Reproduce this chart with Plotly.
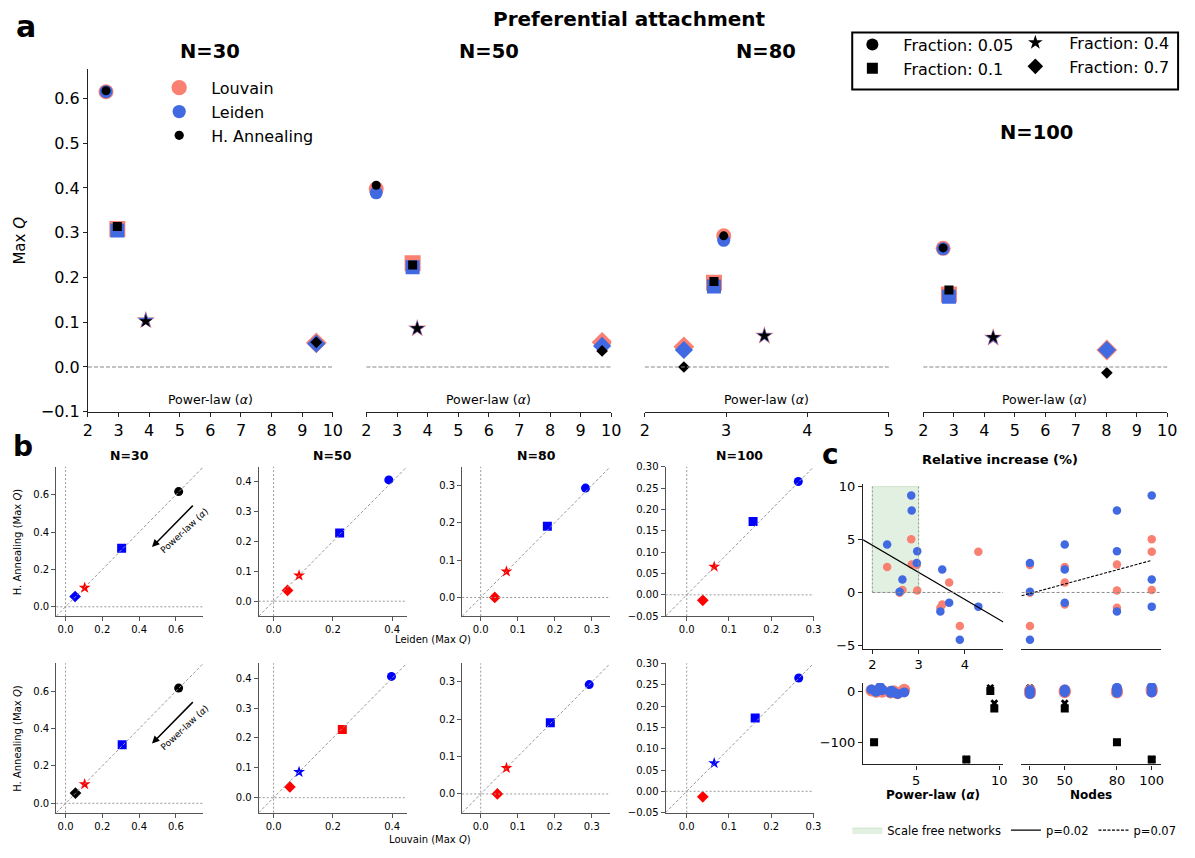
import plotly.graph_objects as go

W, H = 1195, 858
FONT = "DejaVu Sans"

# ---------------- data ----------------
N_VALUES = [30, 50, 80, 100]
N_TITLES = ["N=30", "N=50", "N=80", "N=100"]
FRACTION_LABELS = ["Fraction: 0.05", "Fraction: 0.1", "Fraction: 0.4", "Fraction: 0.7"]

# panel a: power-law exponent and Max Q per fraction (0.05, 0.1, 0.4, 0.7)
alpha_30 = [2.59, 2.96, 3.89, 9.46]
louvain_30 = [0.615, 0.308, 0.104, 0.054]
leiden_30 = [0.615, 0.305, 0.104, 0.052]
anneal_30 = [0.617, 0.314, 0.102, 0.055]

alpha_50 = [2.32, 3.51, 3.66, 9.70]
louvain_50 = [0.398, 0.232, 0.086, 0.055]
leiden_50 = [0.389, 0.223, 0.086, 0.047]
anneal_50 = [0.406, 0.228, 0.086, 0.036]

alpha_80 = [2.97, 2.85, 3.47, 2.48]
louvain_80 = [0.293, 0.188, 0.0695, 0.045]
leiden_80 = [0.283, 0.180, 0.0695, 0.038]
anneal_80 = [0.293, 0.191, 0.0695, 0.0]

alpha_100 = [2.65, 2.84, 4.29, 8.02]
louvain_100 = [0.265, 0.162, 0.065, 0.038]
leiden_100 = [0.264, 0.157, 0.065, 0.038]
anneal_100 = [0.266, 0.172, 0.066, -0.013]

# panel b: colour of each point (blue: annealing higher, red: lower, black: equal)
bcol_leiden_30 = ["black", "blue", "red", "blue"]
bcol_leiden_50 = ["blue", "blue", "red", "red"]
bcol_leiden_80 = ["blue", "blue", "red", "red"]
bcol_leiden_100 = ["blue", "blue", "red", "red"]
bcol_louvain_30 = ["black", "blue", "red", "black"]
bcol_louvain_50 = ["blue", "red", "blue", "red"]
bcol_louvain_80 = ["blue", "blue", "red", "red"]
bcol_louvain_100 = ["blue", "blue", "blue", "red"]

# panel c: relative increase (%) of annealing over Louvain / Leiden
rel_louvain_30 = [-0.03, 2.60, -3.16, 1.5]
rel_leiden_30 = [0.06, 2.78, -4.47, 7.7]
rel_louvain_50 = [2.40, -1.13, 0.94, -33.0]
rel_leiden_50 = [4.53, 2.16, -0.97, -22.6]
rel_louvain_80 = [0.19, 2.63, -1.44, -100.0]
rel_leiden_80 = [3.90, 7.75, -1.81, -100.0]
rel_louvain_100 = [0.22, 5.03, 3.84, -134.0]
rel_leiden_100 = [1.22, 9.16, -1.34, -134.0]

fit_alpha_slope, fit_alpha_intercept = -2.56, 9.58      # p=0.02
fit_nodes_slope, fit_nodes_intercept = 0.0447, -1.44    # p=0.07
fit_nodes_span = [25.2, 100]
scale_free_alpha = [2, 3]
scale_free_top = 10

# ---------------- styles ----------------
SYMBOLS = ["circle", "square", "star", "diamond"]
SIZE_LOUVAIN = [15, 16, 14, 16]
SIZE_LEIDEN = [13, 14, 12, 14]
SIZE_ANNEAL = [9, 9, 10, 9]
SIZE_B = [9, 9, 9, 9]
C_LOUVAIN = "#FA8072"
C_LEIDEN = "#4169E1"


def px_x(p):
    return p / W


def px_y(p):
    return 1 - p / H


fig = go.Figure()
layout = {}
annotations = []
shapes = []


def add_axes(idx, xpx, ypx, xrange, yrange, fsize, xopts=None, yopts=None, lc="#222"):
    xn = "xaxis" if idx == 1 else f"xaxis{idx}"
    yn = "yaxis" if idx == 1 else f"yaxis{idx}"
    xr = "x" if idx == 1 else f"x{idx}"
    yr = "y" if idx == 1 else f"y{idx}"
    base = dict(showgrid=False, zeroline=False, showline=True, linecolor=lc, linewidth=1.2,
                ticks="outside", ticklen=4, tickwidth=1.1, tickcolor=lc,
                tickfont=dict(family=FONT, size=fsize, color="black"), fixedrange=True)
    xd = dict(base)
    xd.update(domain=[px_x(xpx[0]), px_x(xpx[1])], range=xrange, anchor=yr)
    if xopts:
        xd.update(xopts)
    yd = dict(base)
    yd.update(domain=[px_y(ypx[1]), px_y(ypx[0])], range=yrange, anchor=xr)
    if yopts:
        yd.update(yopts)
    layout[xn] = xd
    layout[yn] = yd
    return xr, yr


def ann(text, x, y, size, bold=False, angle=0, xanchor="center", yanchor="middle"):
    annotations.append(dict(text=f"<b>{text}</b>" if bold else text, x=px_x(x), y=px_y(y),
                            xref="paper", yref="paper", showarrow=False, textangle=angle,
                            xanchor=xanchor, yanchor=yanchor,
                            font=dict(family=FONT, size=size, color="black")))


# ---------------- panel a ----------------
a_sets = [(alpha_30, louvain_30, leiden_30, anneal_30),
          (alpha_50, louvain_50, leiden_50, anneal_50),
          (alpha_80, louvain_80, leiden_80, anneal_80),
          (alpha_100, louvain_100, leiden_100, anneal_100)]
a_xpx = [(84, 332), (366, 614), (648, 895), (930, 1177)]
a_xrange = [[2, 10], [2, 10], [2, 5], [2, 10]]
for i, (alpha, lou, lei, ann_q) in enumerate(a_sets):
    yopts = dict(dtick=0.1, tick0=0, tickformat=".1f") if i == 0 else dict(visible=False)
    xr, yr = add_axes(i + 1, a_xpx[i], (65, 414), a_xrange[i], [-0.1, 0.666], 16,
                      xopts=dict(dtick=1, tick0=2), yopts=yopts)
    shapes.append(dict(type="line", xref=f"{xr} domain", yref=yr, x0=0, x1=1, y0=0, y1=0,
                       line=dict(color="#888", width=1.2, dash="4px,2px")))
    for name, vals, col, sz in [("Louvain", lou, C_LOUVAIN, SIZE_LOUVAIN),
                                ("Leiden", lei, C_LEIDEN, SIZE_LEIDEN),
                                ("H. Annealing", ann_q, "black", SIZE_ANNEAL)]:
        fig.add_trace(go.Scatter(x=alpha, y=vals, mode="markers", xaxis=xr, yaxis=yr,
                                 name=name, showlegend=(i == 0), legend="legend",
                                 marker=dict(symbol=SYMBOLS, size=sz, color=col, opacity=1,
                                             line=dict(width=0))))

# fraction legend (symbols only)
for k, lab in enumerate(FRACTION_LABELS):
    fig.add_trace(go.Scatter(x=[None], y=[None], mode="markers", name=lab,
                             legend="legend2" if k < 2 else "legend3",
                             marker=dict(symbol=SYMBOLS[k], color="black", opacity=1,
                                         size=[12, 11, 11, 12][k])))

ann("a", 21, 22, 30, bold=True)
ann("Preferential attachment", 632, 14, 20, bold=True)
for t, (x, y) in zip(N_TITLES, [(208, 47), (490, 47), (771, 47), (1045, 130)]):
    ann(t, x, y, 19.5, bold=True)
for x in [208, 490, 771, 1053]:
    ann("Power-law (<i>α</i>)", x, 402, 12.5)
ann("Max <i>Q</i>", 15, 240, 15, angle=-90)

# ---------------- panel b ----------------
b_xpx = [(52, 201), (257, 407), (463, 613), (669, 819)]
b_rng = [[-0.05, 0.75], [-0.05, 0.45], [-0.05, 0.35], [-0.05, 0.3005]]
b_xticks = [[0, 0.2, 0.4, 0.6], [0, 0.2, 0.4], [0, 0.1, 0.2, 0.3], [0, 0.1, 0.2, 0.3]]
b_yopts = [dict(tickvals=[0, 0.2, 0.4, 0.6], tickformat=".1f"),
           dict(tickvals=[0, 0.1, 0.2, 0.3, 0.4], tickformat=".1f"),
           dict(tickvals=[0, 0.1, 0.2, 0.3], tickformat=".1f"),
           dict(dtick=0.05, tick0=0, tickformat=".2f")]
b_rows = [((470, 622), [leiden_30, leiden_50, leiden_80, leiden_100],
           [bcol_leiden_30, bcol_leiden_50, bcol_leiden_80, bcol_leiden_100]),
          ((670, 822), [louvain_30, louvain_50, louvain_80, louvain_100],
           [bcol_louvain_30, bcol_louvain_50, bcol_louvain_80, bcol_louvain_100])]
anneals = [anneal_30, anneal_50, anneal_80, anneal_100]
idx = 5
for r, (ypx, xs_list, cols_list) in enumerate(b_rows):
    for j in range(4):
        xr, yr = add_axes(idx, b_xpx[j], ypx, b_rng[j], b_rng[j], 10,
                          xopts=dict(tickvals=b_xticks[j], tickformat=".1f"),
                          yopts=b_yopts[j], lc="#555")
        lo, hi = b_rng[j]
        shapes.append(dict(type="line", xref=xr, yref=yr, x0=lo, y0=lo, x1=hi, y1=hi,
                           line=dict(color="#999", width=1, dash="3px,2px")))
        shapes.append(dict(type="line", xref=xr, yref=f"{yr} domain", x0=0, x1=0, y0=0, y1=1,
                           line=dict(color="#999", width=1, dash="2px,2px")))
        shapes.append(dict(type="line", xref=f"{xr} domain", yref=yr, x0=0, x1=1, y0=0, y1=0,
                           line=dict(color="#999", width=1, dash="2px,2px")))
        fig.add_trace(go.Scatter(x=xs_list[j], y=anneals[j], mode="markers", xaxis=xr, yaxis=yr,
                                 showlegend=False,
                                 marker=dict(symbol=SYMBOLS, size=SIZE_B, color=cols_list[j],
                                             opacity=1, line=dict(width=0))))
        if j == 0:
            annotations.append(dict(x=0.47, y=0.32, ax=0.70, ay=0.55, xref=xr, yref=yr,
                                    axref=xr, ayref=yr, showarrow=True, arrowhead=2,
                                    arrowsize=1, arrowwidth=1.5, arrowcolor="black", text=""))
            annotations.append(dict(x=0.645, y=0.405, xref=xr, yref=yr, showarrow=False,
                                    text="Power-law (<i>α</i>)", textangle=-43,
                                    font=dict(family=FONT, size=9, color="black")))
        if r == 0:
            ann(N_TITLES[j], (b_xpx[j][0] + b_xpx[j][1]) / 2, 459, 12.5, bold=True)
        idx += 1
    ann("H. Annealing (Max <i>Q</i>)", 13, (ypx[0] + ypx[1]) / 2 - 0, 10, angle=-90)
ann("Leiden (Max <i>Q</i>)", 433, 646, 10)
ann("Louvain (Max <i>Q</i>)", 430, 849, 10)
ann("b", 18, 449, 28, bold=True)

# ---------------- panel c ----------------
alphas = [alpha_30, alpha_50, alpha_80, alpha_100]
rel_lou = [rel_louvain_30, rel_louvain_50, rel_louvain_80, rel_louvain_100]
rel_lei = [rel_leiden_30, rel_leiden_50, rel_leiden_80, rel_leiden_100]

col_alpha = [a for al in alphas for a in al[:3]]
col_nodes = [n for n in N_VALUES for _ in range(3)]
col_lou = [v for rl in rel_lou for v in rl[:3]]
col_lei = [v for rl in rel_lei for v in rl[:3]]
out_alpha = [al[3] for al in alphas]
out_lou = [rl[3] for rl in rel_lou]
out_lei = [rl[3] for rl in rel_lei]

c_up_range = [-5.3, 10.2]
c_lo_range = [-144, 17.4]
alpha_range_up = [1.8, 4.83]
alpha_range_lo = [1.82, 10.24]
nodes_range = [24.9, 105.5]

x13, y13 = add_axes(13, (869, 1011), (488, 655), alpha_range_up, c_up_range, 13,
                    xopts=dict(tickvals=[2, 3, 4]), yopts=dict(tickvals=[-5, 0, 5, 10]))
x14, y14 = add_axes(14, (1029, 1171), (488, 655), nodes_range, c_up_range, 13,
                    xopts=dict(ticks="", showticklabels=False), yopts=dict(visible=False))
x15, y15 = add_axes(15, (869, 1011), (690, 773), alpha_range_lo, c_lo_range, 13,
                    xopts=dict(tickvals=[5, 10]), yopts=dict(tickvals=[0, -100]))
x16, y16 = add_axes(16, (1029, 1171), (690, 773), nodes_range, c_lo_range, 13,
                    xopts=dict(tickvals=N_VALUES), yopts=dict(visible=False))

# scale free region
fig.add_trace(go.Scatter(
    x=[scale_free_alpha[0], scale_free_alpha[0], scale_free_alpha[1], scale_free_alpha[1], scale_free_alpha[0]],
    y=[0, scale_free_top, scale_free_top, 0, 0], mode="lines", fill="toself",
    fillcolor="rgba(160,205,160,0.30)", line=dict(color="rgba(160,205,160,0.5)", width=0.8),
    xaxis=x13, yaxis=y13, name="Scale free networks", legend="legend4", hoverinfo="skip"))
for xv in scale_free_alpha:
    shapes.append(dict(type="line", xref=x13, yref=y13, x0=xv, x1=xv, y0=0, y1=scale_free_top,
                       line=dict(color="#8a9a8a", width=1, dash="2px,2px")))
shapes.append(dict(type="line", xref=x13, yref=y13, x0=scale_free_alpha[0], x1=alpha_range_up[1],
                   y0=0, y1=0, line=dict(color="#888", width=1, dash="3px,2px")))
shapes.append(dict(type="line", xref=x14, yref=y14, x0=fit_nodes_span[0], x1=nodes_range[1],
                   y0=0, y1=0, line=dict(color="#888", width=1, dash="3px,2px")))

for xr, yr, xs in [(x13, y13, col_alpha), (x14, y14, col_nodes)]:
    fig.add_trace(go.Scatter(x=xs, y=col_lou, mode="markers", xaxis=xr, yaxis=yr, showlegend=False,
                             marker=dict(size=8.5, color=C_LOUVAIN, opacity=1, line=dict(width=0))))
    fig.add_trace(go.Scatter(x=xs, y=col_lei, mode="markers", xaxis=xr, yaxis=yr, showlegend=False,
                             marker=dict(size=8.5, color=C_LEIDEN, opacity=1, line=dict(width=0))))

fx_alpha = list(alpha_range_up)
fig.add_trace(go.Scatter(x=fx_alpha, y=[fit_alpha_slope * v + fit_alpha_intercept for v in fx_alpha],
                         mode="lines", line=dict(color="black", width=1.1), xaxis=x13, yaxis=y13,
                         name="p=0.02", legend="legend4"))
fig.add_trace(go.Scatter(x=fit_nodes_span, y=[fit_nodes_slope * v + fit_nodes_intercept for v in fit_nodes_span],
                         mode="lines", line=dict(color="black", width=1.1, dash="3px,1.5px"),
                         xaxis=x14, yaxis=y14, name="p=0.07", legend="legend4"))

for xr, yr, xs, xo in [(x15, y15, col_alpha, out_alpha), (x16, y16, col_nodes, N_VALUES)]:
    fig.add_trace(go.Scatter(x=xo, y=out_lou, mode="markers", xaxis=xr, yaxis=yr, showlegend=False,
                             marker=dict(symbol="square", size=8, color="black", opacity=1,
                                         line=dict(width=0))))
    fig.add_trace(go.Scatter(x=xo, y=out_lei, mode="markers", xaxis=xr, yaxis=yr, showlegend=False,
                             marker=dict(symbol="x", size=7, color="black", opacity=1,
                                         line=dict(width=0))))
    fig.add_trace(go.Scatter(x=xs, y=col_lou, mode="markers", xaxis=xr, yaxis=yr, showlegend=False,
                             marker=dict(size=12, color=C_LOUVAIN, opacity=1, line=dict(width=0))))
    fig.add_trace(go.Scatter(x=xs, y=col_lei, mode="markers", xaxis=xr, yaxis=yr, showlegend=False,
                             marker=dict(size=10, color=C_LEIDEN, opacity=1, line=dict(width=0))))

ann("c", 836, 458, 28, bold=True)
ann("Relative increase (%)", 1008, 463, 13, bold=True)
ann("Power-law (<i>α</i>)", 940, 804, 12, bold=True)
ann("Nodes", 1100, 804, 12, bold=True)

shapes.append(dict(type="rect", xref="paper", yref="paper", x0=px_x(858), x1=px_x(1188),
                   y0=px_y(86), y1=px_y(28), line=dict(color="black", width=2)))

layout.update(
    width=W, height=H, autosize=False, margin=dict(l=0, r=0, t=0, b=0),
    paper_bgcolor="white", plot_bgcolor="white",
    font=dict(family=FONT, color="black"),
    annotations=annotations, shapes=shapes,
    legend=dict(x=px_x(144), y=px_y(67), xanchor="left", yanchor="top", itemsizing="trace",
                itemwidth=54, font=dict(family=FONT, size=16), bgcolor="rgba(0,0,0,0)",
                borderwidth=0),
    legend2=dict(x=px_x(847), y=px_y(23), xanchor="left", yanchor="top", itemsizing="trace",
                 itemwidth=52, font=dict(family=FONT, size=16), bgcolor="rgba(0,0,0,0)",
                 borderwidth=0),
    legend3=dict(x=px_x(1009), y=px_y(21), xanchor="left", yanchor="top", itemsizing="trace",
                 itemwidth=58, font=dict(family=FONT, size=16), bgcolor="rgba(0,0,0,0)",
                 borderwidth=0),
    legend4=dict(x=px_x(853), y=px_y(825), xanchor="left", yanchor="top", orientation="h",
                 font=dict(family=FONT, size=11.5), bgcolor="rgba(0,0,0,0)", borderwidth=0),
    hovermode=False,
)
fig.update_layout(layout)
fig.write_html("out.html")
